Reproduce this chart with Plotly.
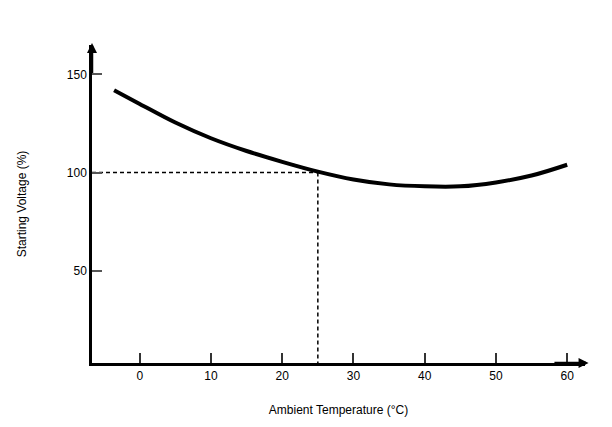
import plotly.graph_objects as go

temp = [-3.6, 0, 5, 10, 15, 20, 25, 30, 35, 40, 45, 50, 55, 60]
voltage = [142, 135, 125.5, 117.5, 111, 105.5, 100.5, 96.5, 94, 93, 93, 95, 98.5, 104]
ref_temp = 25
ref_volt = 100
x_ticks = [0, 10, 20, 30, 40, 50, 60]
y_ticks = [50, 100, 150]

fig = go.Figure()
fig.add_trace(go.Scatter(x=temp, y=voltage, mode="lines", line=dict(color="black", width=4, shape="spline"), showlegend=False))
fig.add_trace(go.Scatter(x=[-6.7, ref_temp], y=[ref_volt, ref_volt], mode="lines", line=dict(color="black", width=1.5, dash="4px,3px"), showlegend=False))
fig.add_trace(go.Scatter(x=[ref_temp, ref_temp], y=[ref_volt, 3], mode="lines", line=dict(color="black", width=1.5, dash="4px,3px"), showlegend=False))

fig.add_annotation(x=-6.7, y=166, ax=-6.7, ay=150, xref="x", yref="y", axref="x", ayref="y",
                   showarrow=True, arrowhead=2, arrowsize=0.8, arrowwidth=2.5, arrowcolor="black", text="")
fig.add_annotation(x=63, y=3, ax=58, ay=3, xref="x", yref="y", axref="x", ayref="y",
                   showarrow=True, arrowhead=2, arrowsize=0.8, arrowwidth=2.5, arrowcolor="black", text="")

font = dict(family="Liberation Sans, Arial", size=12, color="black")
fig.update_layout(
    width=612, height=427, plot_bgcolor="white", paper_bgcolor="white",
    margin=dict(l=92, r=27, t=45, b=64),
    font=font,
    xaxis=dict(range=[-6.7, 62.5], tickvals=x_ticks, ticks="inside", ticklen=10, tickwidth=2,
               tickcolor="#333", showline=True, linecolor="black", linewidth=2.5, showgrid=False,
               zeroline=False, title=dict(text="Ambient Temperature (°C)", font=dict(size=12), standoff=24)),
    yaxis=dict(range=[3, 165], tickvals=y_ticks, ticks="inside", ticklen=10, tickwidth=2,
               tickcolor="#555", showline=True, linecolor="black", linewidth=2.5, showgrid=False,
               zeroline=False, title=dict(text="Starting Voltage (%)", font=dict(size=12), standoff=38)),
)
fig.write_html("out.html")
